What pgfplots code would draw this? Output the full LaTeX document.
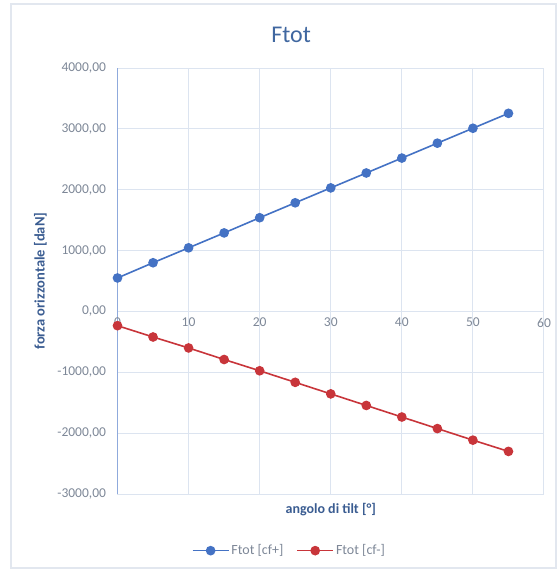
\documentclass[border=0pt]{standalone}
\usepackage{fontspec}
\setmainfont{Carlito}
\usepackage{pgfplots}
\pgfplotsset{compat=1.18}
\definecolor{sblue}{HTML}{4472C4}
\definecolor{sred}{HTML}{C8353A}
\definecolor{gridc}{HTML}{DCE4F0}
\definecolor{axc}{HTML}{8FAADC}
\definecolor{tickc}{HTML}{7D8797}
\definecolor{labc}{HTML}{3A5C91}
\definecolor{titlec}{HTML}{4067A0}
\definecolor{framec}{HTML}{E2E7EF}
\begin{document}
\begin{tikzpicture}[x=1pt,y=1pt]
\useasboundingbox (-117.5,-77) rectangle (440.5,494);
\draw[color=framec, line width=1.2pt] (-106.5,-74) rectangle (438.5,490);
\begin{axis}[
  at={(0,0)}, anchor=south west,
  width=426.5pt, height=426pt, scale only axis,
  xmin=0, xmax=60, ymin=-3000, ymax=4000,
  axis x line=middle, axis y line=left,
  axis line style={-},
  x axis line style={draw=none},
  y axis line style={color=axc, line width=1.2pt},
  hide obscured x ticks=false, hide obscured y ticks=false,
  xtick={0,10,...,60},
  xticklabels={0,10,20,30,40,50,60},
  ytick={-3000,-2000,...,4000},
  yticklabels={{-3000,00},{-2000,00},{-1000,00},{0,00},{1000,00},{2000,00},{3000,00},{4000,00}},
  major tick length=0pt,
  grid=major,
  major grid style={color=gridc, line width=1pt},
  xticklabel style={font=\fontsize{13.5}{16}\selectfont, color=tickc, yshift=-3pt},
  yticklabel style={font=\fontsize{13.5}{16}\selectfont, color=tickc, xshift=-8pt},
  title={Ftot},
  title style={at={(axis description cs:0.407,1.064)}, anchor=center, font=\fontsize{24}{28}\selectfont, color=titlec},
  xlabel={angolo di tilt [°]},
  xlabel style={at={(axis description cs:0.5,-0.0376)}, anchor=center, font=\bfseries\fontsize{14}{16}\selectfont, color=labc},
  ylabel={forza orizzontale [daN]},
  ylabel style={at={(axis description cs:-0.181,0.5)}, anchor=center, font=\bfseries\fontsize{14.5}{16}\selectfont, color=labc},
  legend style={at={(axis description cs:0.403,-0.133)}, anchor=center, draw=none, fill=none,
    font=\fontsize{14}{16}\selectfont, text=tickc, legend columns=2,
    nodes={inner xsep=2pt},
    /tikz/every even column/.append style={column sep=11pt}},
  legend image code/.code={\draw[#1, mark repeat=2, mark phase=2] plot coordinates {(0pt,0pt) (18pt,0pt) (36pt,0pt)};},
  legend cell align=left,
  clip=false,
]
\addplot[color=sblue, line width=1.6pt, mark=*, mark size=4pt, mark options={fill=sblue, draw=sblue}]
  coordinates {(0,550) (5,800) (10,1045) (15,1290) (20,1540) (25,1785) (30,2030) (35,2275) (40,2520) (45,2765) (50,3010) (55,3255)};
\addlegendentry{Ftot [cf+]}
\addplot[color=sred, line width=1.6pt, mark=*, mark size=4pt, mark options={fill=sred, draw=sred}]
  coordinates {(0,-234) (5,-420) (10,-600) (15,-790) (20,-975) (25,-1165) (30,-1355) (35,-1545) (40,-1735) (45,-1925) (50,-2115) (55,-2300)};
\addlegendentry{Ftot [cf-]}
\end{axis}
\end{tikzpicture}
\end{document}
